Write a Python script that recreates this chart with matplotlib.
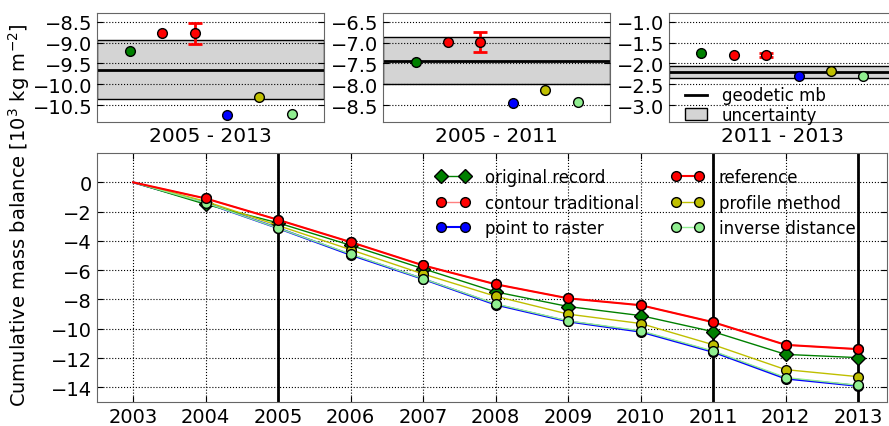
import matplotlib
matplotlib.use('Agg')
import matplotlib.pyplot as plt
from matplotlib.lines import Line2D
from matplotlib.patches import Patch

years = [2003, 2004, 2005, 2006, 2007, 2008, 2009, 2010, 2011, 2012, 2013]
original = [0, -1.5, -2.77, -4.3, -5.9, -7.48, -8.48, -9.1, -10.2, -11.75, -11.97]
contour = [0, -1.1, -2.56, -4.08, -5.67, -6.96, -7.92, -8.39, -9.55, -11.1, -11.39]
point_raster = [0, -1.4, -3.13, -4.95, -6.6, -8.35, -9.5, -10.2, -11.58, -13.4, -13.9]
reference = [0, -1.1, -2.56, -4.08, -5.67, -6.96, -7.92, -8.39, -9.55, -11.1, -11.39]
profile = [0, -1.3, -2.95, -4.6, -6.26, -7.78, -9.0, -9.64, -11.09, -12.79, -13.27]
inverse = [0, -1.4, -3.13, -4.9, -6.58, -8.3, -9.46, -10.14, -11.52, -13.33, -13.86]

periods = ['2005 - 2013', '2005 - 2011', '2011 - 2013']
# order: original, contour, reference, point to raster, profile, inverse
period_vals = [
    [-9.2, -8.78, -8.78, -10.74, -10.3, -10.71],
    [-7.46, -6.99, -6.99, -8.45, -8.14, -8.42],
    [-1.75, -1.80, -1.80, -2.30, -2.17, -2.30],
]
ref_err = [0.25, 0.24, 0.04]
geodetic = [-9.65, -7.43, -2.21]
geodetic_unc = [0.71, 0.56, 0.15]
period_ylim = [(-10.9, -8.3), (-8.9, -6.3), (-3.4, -0.8)]
period_ticks = [[-8.5, -9.0, -9.5, -10.0, -10.5],
                [-6.5, -7.0, -7.5, -8.0, -8.5],
                [-1.0, -1.5, -2.0, -2.5, -3.0]]
break_years = [2005, 2011, 2013]

plt.rcParams['font.size'] = 14
plt.rcParams['xtick.direction'] = 'in'
plt.rcParams['ytick.direction'] = 'in'
plt.rcParams['axes.edgecolor'] = '0.4'

fig = plt.figure(figsize=(8.89, 4.27), dpi=100)

point_colors = ['green', 'red', 'red', 'blue', 'y', 'lightgreen']
top_lefts = [0.1095, 0.4312, 0.7525]
for i in range(3):
    ax = fig.add_axes([top_lefts[i], 0.712, 0.255, 0.2546])
    ax.axhspan(geodetic[i] - geodetic_unc[i], geodetic[i] + geodetic_unc[i],
               facecolor='0.83', edgecolor='k', lw=1, zorder=1)
    ax.axhline(geodetic[i], color='k', lw=2, zorder=2)
    for j, v in enumerate(period_vals[i]):
        if j == 2:
            ax.errorbar(j + 1, v, yerr=ref_err[i], fmt='o', color='red', mec='k',
                        ms=7, elinewidth=2, capsize=5, capthick=2, ecolor='red', zorder=4)
        else:
            ax.plot(j + 1, v, 'o', color=point_colors[j], mec='k', ms=7, zorder=4)
    ax.set_xlim(0, 7)
    ax.set_ylim(*period_ylim[i])
    ax.set_yticks(period_ticks[i])
    ax.set_xticks([])
    ax.yaxis.grid(True, linestyle=':', color='k', lw=0.8)
    ax.set_axisbelow(False)
    ax.tick_params(right=True, length=4)
    ax.set_xlabel(periods[i], fontsize=14.5, labelpad=3)
    if i == 2:
        handles = [Line2D([], [], color='k', lw=2),
                   Patch(facecolor='0.83', edgecolor='k')]
        ax.legend(handles, ['geodetic mb', 'uncertainty'], loc='lower left',
                  bbox_to_anchor=(0.07, -0.02), frameon=False, fontsize=12,
                  handlelength=1.3, borderpad=0, borderaxespad=0,
                  labelspacing=0.1, handletextpad=0.9)

ax = fig.add_axes([0.109, 0.0562, 0.889, 0.583])
for y in break_years:
    ax.axvline(y, color='k', lw=2, zorder=1)
marks = slice(1, None)
ax.plot(years, original, '-D', color='green', mec='k', ms=7, lw=1, markevery=marks,
        label='original record', zorder=3)
ax.plot(years, contour, '-o', color='#ff8080', mfc='red', mec='k', ms=7, lw=1, markevery=marks,
        label='contour traditional', zorder=2)
ax.plot(years, point_raster, '-o', color='blue', mec='k', ms=7, lw=1.5, markevery=marks,
        label='point to raster', zorder=2)
ax.plot(years, reference, '-o', color='red', mec='k', ms=7, lw=1.5, markevery=marks,
        label='reference', zorder=4)
ax.plot(years, profile, '-o', color='y', mec='k', ms=7, lw=1, markevery=marks,
        label='profile method', zorder=3)
ax.plot(years, inverse, '-o', color='lightgreen', mec='k', ms=7, lw=1, markevery=marks,
        label='inverse distance', zorder=3)
ax.set_xlim(2002.5, 2013.4)
ax.set_ylim(-15, 2)
ax.set_xticks(years)
ax.set_yticks(range(-14, 1, 2))
ax.grid(True, linestyle=':', color='k', lw=0.8)
ax.tick_params(right=True, top=True, length=4)
ax.legend(ncol=2, loc='upper right', bbox_to_anchor=(0.979, 1.0), frameon=False,
          fontsize=12, numpoints=2, handlelength=2.0, columnspacing=1.9,
          labelspacing=0.45, handletextpad=0.9)

fig.text(0.021, 0.496, 'Cumulative mass balance [10$^3$ kg m$^{-2}$]',
         rotation=90, ha='center', va='center', fontsize=14)

fig.savefig('out.png', dpi=100)
